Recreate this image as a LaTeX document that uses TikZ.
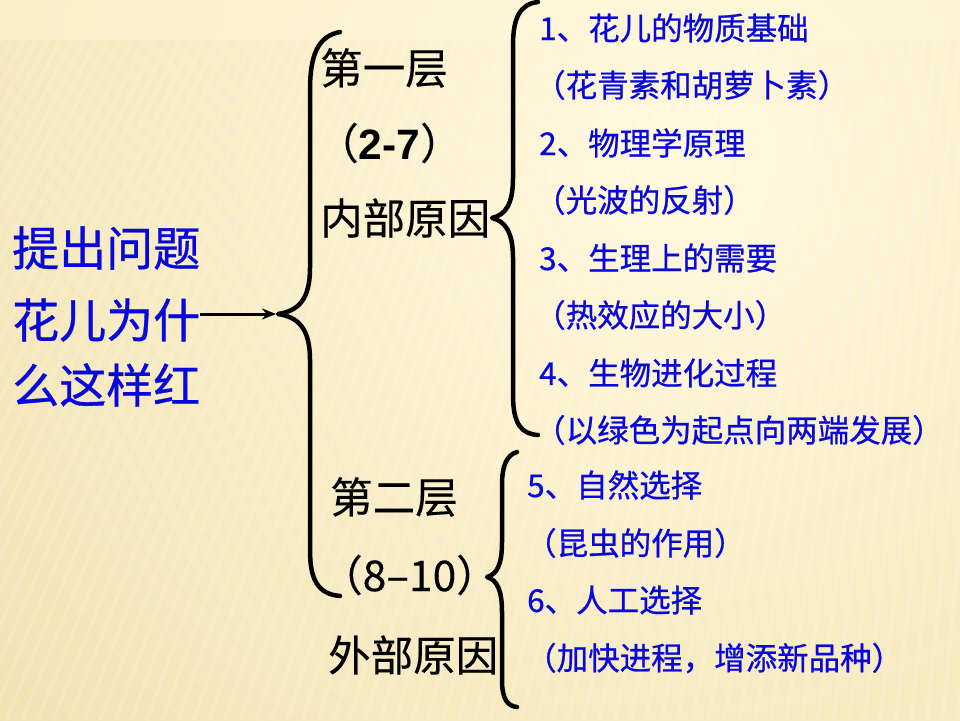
\documentclass[tikz,border=0pt]{standalone}
\usepackage{fontspec}
\setmainfont{Noto Sans CJK SC}
\newfontfamily\medcjk{Noto Sans CJK SC}[FakeBold=0.7]
\newfontfamily\blackcjk{Noto Sans CJK SC}[FakeBold=0.3]
\newfontfamily\latinfont{Liberation Sans}
\usepackage{xcolor}
\usetikzlibrary{arrows.meta,positioning}
\definecolor{itemblue}{RGB}{8,8,220}
\definecolor{paperlight}{RGB}{255,249,222}
\definecolor{paperdark}{RGB}{234,210,146}

\begin{document}
\begin{tikzpicture}[x=1pt,y=-1pt,
  question/.style={anchor=west,inner sep=0pt,text=itemblue,font=\medcjk\fontsize{47}{47}\selectfont},
  layer/.style={anchor=west,inner sep=0pt,font=\blackcjk\fontsize{42.5}{42.5}\selectfont},
  item/.style={anchor=west,inner sep=0pt,text=itemblue,font=\medcjk\fontsize{31.5}{31.5}\selectfont},
  brace/.style={line width=4.5pt,line cap=round,line join=round},
  arr/.style={-{Stealth[length=14pt,width=11pt]},line width=3pt}]
% background
\useasboundingbox (0,0) rectangle (960,720);
\begin{scope}
\clip (0,0) rectangle (960,720);
\shade[inner color=paperlight,outer color=paperdark] (680,160) circle (1500pt);
\foreach \x in {0,12,...,1260}
  \draw[white,opacity=0.16,line width=4pt] (\x,40) -- (\x-80-0.3*960+0.3*\x,720);
\fill[paperlight,opacity=0.45] (0,0) rectangle (960,40);
\end{scope}

\coordinate (tipA) at (278,314);
\coordinate (tipB) at (492,218);
\coordinate (tipC) at (487,577);

\node[question] (q1) at (12,248) {提出问题};
\node[question] (q2) at (12,320) {花儿为什};
\node[question] (q3) at (12,385) {么这样红};

\node[layer] (l1) at (320,68) {第一层};
\node[layer] (r1) at (316,143) {（{\latinfont\bfseries 2-7}）};
\node[layer] (c1) at (320,218) {内部原因};
\node[layer] (l2) at (330,497) {第二层};
\node[layer] (r2) at (320,575) {（8–10）};
\node[layer] (c2) at (328,655) {外部原因};

\node[item] (i1) at (539,28) {1、花儿的物质基础};
\node[item] (i1b) at (534,85) {（花青素和胡萝卜素）};
\node[item] (i2) at (539,143) {2、物理学原理};
\node[item] (i2b) at (534,200) {（光波的反射）};
\node[item] (i3) at (539,258) {3、生理上的需要};
\node[item] (i3b) at (534,315) {（热效应的大小）};
\node[item] (i4) at (539,373) {4、生物进化过程};
\node[item] (i4b) at (534,430) {（以绿色为起点向两端发展）};
\node[item] (i5) at (527,485) {5、自然选择};
\node[item] (i5b) at (525,543) {（昆虫的作用）};
\node[item] (i6) at (527,600) {6、人工选择};
\node[item] (i6b) at (525,658) {（加快进程，增添新品种）};

\draw[arr] (q2.east |- tipA) -- ([xshift=-2pt]tipA);

\draw[brace] (340,32) .. controls (318,36) and (310,55) .. (310,90) -- (310,268)
  .. controls (310,300) and (298,311) .. (tipA)
  .. controls (298,317) and (310,328) .. (310,360) -- (310,550)
  .. controls (310,580) and (318,594) .. (340,596);
\draw[brace] (538,2) .. controls (520,4) and (513,18) .. (513,45) -- (513,178)
  .. controls (513,205) and (505,215) .. (tipB)
  .. controls (505,221) and (513,232) .. (513,258) -- (513,395)
  .. controls (513,425) and (522,434) .. (538,435);
\draw[brace] (517,452) .. controls (507,455) and (502,465) .. (502,485) -- (502,542)
  .. controls (502,565) and (497,574) .. (tipC)
  .. controls (497,580) and (502,590) .. (502,612) -- (502,680)
  .. controls (502,700) and (508,706) .. (517,707);
\end{tikzpicture}
\end{document}
